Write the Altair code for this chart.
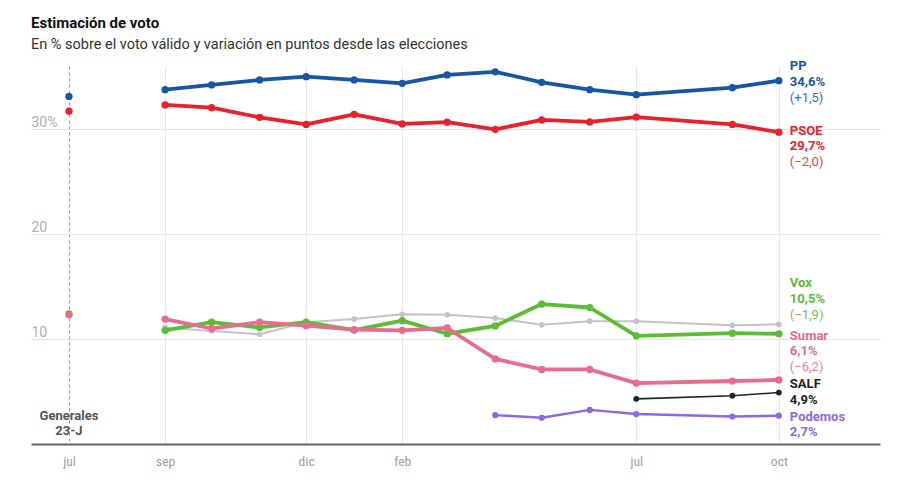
import altair as alt
import pandas as pd

# ---------------- data ----------------
eleccion = "2023-07-01"
fechas = ["2023-09-01", "2023-10-01", "2023-11-01", "2023-12-01", "2024-01-01",
          "2024-02-01", "2024-03-01", "2024-04-01", "2024-05-01", "2024-06-01",
          "2024-07-01", "2024-09-01", "2024-10-01"]

pp = [33.75, 34.2, 34.67, 34.98, 34.67, 34.35, 35.15, 35.45, 34.45, 33.75, 33.27, 33.94, 34.6]
psoe = [32.29, 32.03, 31.11, 30.44, 31.4, 30.48, 30.65, 29.97, 30.86, 30.67, 31.14, 30.44, 29.7]
vox = [10.83, 11.6, 11.1, 11.6, 10.85, 11.75, 10.5, 11.24, 13.33, 13.0, 10.3, 10.55, 10.5]
sumar = [11.9, 11.0, 11.6, 11.27, 10.9, 10.83, 11.05, 8.1, 7.1, 7.1, 5.8, 6.0, 6.1]
otros = [11.1, 10.76, 10.45, 11.6, 11.9, 12.35, 12.3, 12.0, 11.35, 11.7, 11.7, 11.3, 11.4]

fechas_salf = ["2024-07-01", "2024-09-01", "2024-10-01"]
salf = [4.3, 4.6, 4.9]
fechas_podemos = ["2024-04-01", "2024-05-01", "2024-06-01", "2024-07-01", "2024-09-01", "2024-10-01"]
podemos = [2.75, 2.5, 3.25, 2.85, 2.62, 2.7]

resultado_23j = {"PP": 33.1, "PSOE": 31.7, "Vox": 12.4, "Sumar": 12.3}

etiquetas = {
    "PP": ["PP", "34,6%", "(+1,5)"],
    "PSOE": ["PSOE", "29,7%", "(−2,0)"],
    "Vox": ["Vox", "10,5%", "(−1,9)"],
    "Sumar": ["Sumar", "6,1%", "(−6,2)"],
    "SALF": ["SALF", "4,9%"],
    "Podemos": ["Podemos", "2,7%"],
}
etiqueta_y = {"PP": 36.0, "PSOE": 29.84, "Vox": 15.3, "Sumar": 10.31, "SALF": 5.69, "Podemos": 2.6}

# ---------------- styles ----------------
colores = {"PP": "#1557a5", "PSOE": "#e8212b", "Vox": "#5bbd35", "Sumar": "#e96b8d",
           "Otros": "#c4c4c8", "SALF": "#222222", "Podemos": "#8b6ae6"}
grosor = {"PP": 3.8, "PSOE": 3.8, "Vox": 3.8, "Sumar": 3.8, "Otros": 2, "SALF": 1.6, "Podemos": 2.5}
tam = {"PP": 52, "PSOE": 52, "Vox": 52, "Sumar": 52, "Otros": 32, "SALF": 34, "Podemos": 38}
orden = ["Otros", "Podemos", "SALF", "Vox", "Sumar", "PSOE", "PP"]

series = {
    "PP": (fechas, pp), "PSOE": (fechas, psoe), "Vox": (fechas, vox),
    "Sumar": (fechas, sumar), "Otros": (fechas, otros),
    "SALF": (fechas_salf, salf), "Podemos": (fechas_podemos, podemos),
}

rows = []
for p, (fs, vs) in series.items():
    for f, v in zip(fs, vs):
        rows.append({"partido": p, "fecha": f, "valor": v, "tipo": "encuesta"})
    if p in resultado_23j:
        rows.append({"partido": p, "fecha": eleccion, "valor": resultado_23j[p], "tipo": "eleccion"})
df = pd.DataFrame(rows)

lab_rows = []
for p, lines in etiquetas.items():
    for i, t in enumerate(lines):
        lab_rows.append({"partido": p, "texto": t, "fecha": fechas[-1],
                         "y": etiqueta_y[p] - i * 1.5, "linea": i})
labs = pd.DataFrame(lab_rows)

ann = pd.DataFrame({"texto": ["Generales", "23-J"], "fecha": [eleccion, eleccion], "y": [2.67, 1.2]})

# ---------------- encodings ----------------
FONT = "Roboto"
meses = "['ene','feb','mar','abr','may','jun','jul','ago','sep','oct','nov','dic']"
xticks = [alt.DateTime(year=2023, month=7, date=1, utc=True),
          alt.DateTime(year=2023, month=9, date=1, utc=True),
          alt.DateTime(year=2023, month=12, date=1, utc=True),
          alt.DateTime(year=2024, month=2, date=1, utc=True),
          alt.DateTime(year=2024, month=7, date=1, utc=True),
          alt.DateTime(year=2024, month=10, date=1, utc=True)]
test_23j = "utcyear(datum.value) == 2023 && utcmonth(datum.value) == 6"

x_enc = alt.X(
    "fecha:T",
    scale=alt.Scale(type="utc",
                    domain=[alt.DateTime(year=2023, month=6, date=6, hours=12, utc=True),
                            alt.DateTime(year=2024, month=12, date=5, hours=6, utc=True)]),
    axis=alt.Axis(values=xticks, labelExpr=meses + "[utcmonth(datum.value)]", title=None,
                  grid=True,
                  gridColor={"condition": {"test": test_23j, "value": "#9a9a9a"}, "value": "#e8e8e8"},
                  gridDash={"condition": {"test": test_23j, "value": [3, 3]}, "value": []},
                  gridWidth=1, ticks=False, domainColor="#666666", domainWidth=2,
                  labelColor="#a0a0a0", labelFontSize=13.5, labelPadding=10,
                  labelFont="Liberation Sans Narrow, Roboto Condensed, Arial Narrow, sans-serif"),
)
y_enc = alt.Y(
    "valor:Q",
    scale=alt.Scale(domain=[0, 36], nice=False, zero=True),
    axis=alt.Axis(values=[10, 20, 30], labelExpr="datum.value == 30 ? '30%' : datum.label",
                  title=None, domain=False, ticks=False, labelAlign="left", labelBaseline="bottom",
                  labelPadding=0, labelColor="#b0b0b0", labelFontSize=14, labelFont=FONT,
                  gridColor="#e6e6e6", gridWidth=1),
)

layers = []
for p in orden:
    base = alt.Chart(df[df.partido == p])
    line = base.transform_filter(alt.datum.tipo == "encuesta").mark_line(
        color=colores[p], strokeWidth=grosor[p], strokeJoin="round").encode(x=x_enc, y=y_enc)
    pts = base.mark_circle(color=colores[p], size=tam[p], opacity=1).encode(x=x_enc, y=y_enc)
    layers += [line, pts]

lab_base = alt.Chart(labs).encode(
    x=alt.X("fecha:T"), y=alt.Y("y:Q"),
    text="texto:N",
    color=alt.Color("partido:N", scale=alt.Scale(domain=list(colores.keys()),
                                                   range=list(colores.values())), legend=None),
)
lab_bold = lab_base.transform_filter(alt.datum.linea < 2).mark_text(
    align="left", baseline="middle", dx=11, font=FONT, fontSize=13, fontWeight="bold")
lab_norm = lab_base.transform_filter(alt.datum.linea == 2).mark_text(
    align="left", baseline="middle", dx=11, font=FONT, fontSize=13, fontWeight="normal", opacity=0.85)

ann_txt = alt.Chart(ann).mark_text(
    align="center", baseline="middle", font=FONT, fontSize=13, fontWeight="bold", color="#555555"
).encode(x=alt.X("fecha:T"), y=alt.Y("y:Q"), text="texto:N")

chart = alt.layer(*layers, lab_bold, lab_norm, ann_txt).properties(
    width=849, height=378,
    autosize=alt.AutoSizeParams(type="none"),
    padding={"left": 23, "top": 58, "right": 10, "bottom": 26},
    title=alt.TitleParams(
        text="Estimación de voto",
        subtitle="En % sobre el voto válido y variación en puntos desde las elecciones",
        anchor="start", frame="group", font=FONT, fontSize=15, fontWeight="bold", color="#111111",
        subtitleFont=FONT, subtitleFontSize=14.5, subtitleColor="#333333",
        offset=9, subtitlePadding=7,
    ),
).configure_view(stroke=None)

chart.save("out.html", embed_options={"renderer": "svg", "actions": False})
